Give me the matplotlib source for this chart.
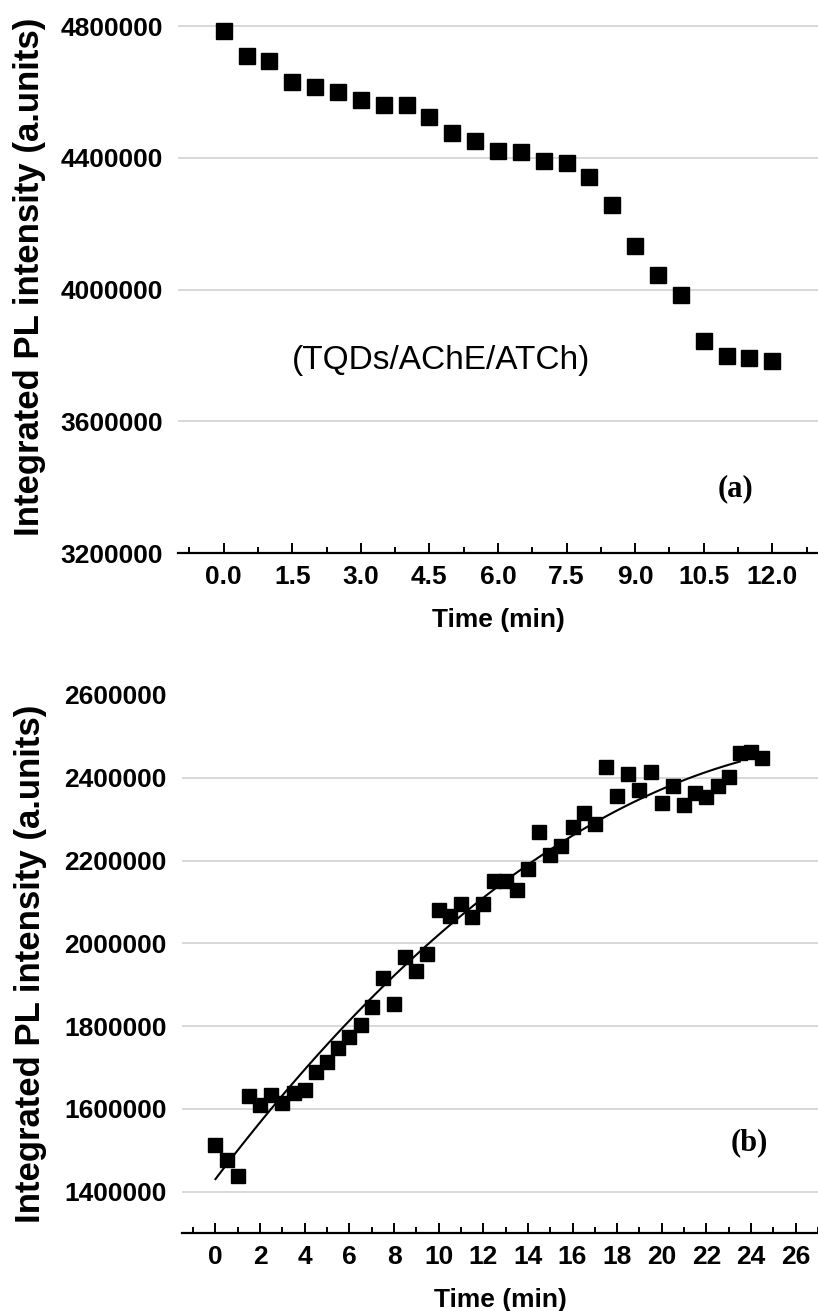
import numpy as np
import matplotlib
matplotlib.use('Agg')
import matplotlib.pyplot as plt
from matplotlib.ticker import MultipleLocator

# panel (a): PL decay
time_a = [0.0, 0.5, 1.0, 1.5, 2.0, 2.5, 3.0, 3.5, 4.0, 4.5, 5.0, 5.5, 6.0,
          6.5, 7.0, 7.5, 8.0, 8.5, 9.0, 9.5, 10.0, 10.5, 11.0, 11.5, 12.0]
pl_a = [4785000, 4709000, 4695000, 4629000, 4616000, 4600000, 4576000,
        4561000, 4561000, 4523000, 4475000, 4452000, 4422000, 4417000,
        4389000, 4384000, 4343000, 4258000, 4131000, 4045000, 3982000,
        3843000, 3798000, 3793000, 3783000]
yticks_a = [3200000, 3600000, 4000000, 4400000, 4800000]
xticks_a = [0.0, 1.5, 3.0, 4.5, 6.0, 7.5, 9.0, 10.5, 12.0]

# panel (b): PL recovery
time_b = [0.0, 0.5, 1.0, 1.5, 2.0, 2.5, 3.0, 3.5, 4.0, 4.5, 5.0, 5.5, 6.0,
          6.5, 7.0, 7.5, 8.0, 8.5, 9.0, 9.5, 10.0, 10.5, 11.0, 11.5, 12.0,
          12.5, 13.0, 13.5, 14.0, 14.5, 15.0, 15.5, 16.0, 16.5, 17.0, 17.5,
          18.0, 18.5, 19.0, 19.5, 20.0, 20.5, 21.0, 21.5, 22.0, 22.5, 23.0,
          23.5, 24.0, 24.5]
pl_b = [1513000, 1477000, 1437000, 1631000, 1610000, 1634000, 1614000,
        1638000, 1646000, 1690000, 1714000, 1746000, 1774000, 1802000,
        1846000, 1915000, 1853000, 1967000, 1933000, 1973000, 2081000,
        2067000, 2094000, 2063000, 2096000, 2150000, 2150000, 2128000,
        2180000, 2268000, 2214000, 2234000, 2281000, 2316000, 2289000,
        2426000, 2355000, 2410000, 2370000, 2414000, 2339000, 2381000,
        2334000, 2364000, 2354000, 2381000, 2402000, 2459000, 2462000,
        2448000]
yticks_b = [1400000, 1600000, 1800000, 2000000, 2200000, 2400000, 2600000]
xticks_b = list(range(0, 27, 2))

W, H = 818, 1311
fig = plt.figure(figsize=(W / 100, H / 100), dpi=100)

grid_col = '#d8d8d8'


def style(ax):
    for s in ['top', 'right', 'left']:
        ax.spines[s].set_visible(False)
    ax.spines['bottom'].set_linewidth(1.6)
    ax.tick_params(axis='y', length=0, pad=11)
    ax.tick_params(axis='x', which='major', direction='in', length=7.5,
                   width=1.4, pad=9)
    ax.tick_params(axis='x', which='minor', direction='in', length=4,
                   width=1.4)
    ax.yaxis.grid(True, color=grid_col, linewidth=1.4)
    ax.set_axisbelow(True)
    for lab in ax.get_xticklabels() + ax.get_yticklabels():
        lab.set_fontfamily('Liberation Sans')
        lab.set_fontweight('bold')
        lab.set_fontsize(19)
    ax.set_xlabel('Time (min)', fontfamily='Liberation Sans',
                  fontweight='bold', fontsize=19, labelpad=13)
    ax.set_ylabel('Integrated PL intensity (a.units)',
                  fontfamily='Liberation Sans', fontweight='bold',
                  fontsize=25)


# top panel
ax1 = fig.add_axes([178 / W, (H - 553) / H, (W - 178) / W, 553 / H])
ax1.plot(time_a, pl_a, 's', color='black', ms=12)
ax1.set_xlim(-1, 13)
ax1.set_ylim(3200000, 4879000)
ax1.set_yticks(yticks_a)
ax1.set_yticklabels([str(v) for v in yticks_a])
ax1.set_xticks(xticks_a)
ax1.set_xticklabels(['%.1f' % v for v in xticks_a])
ax1.xaxis.set_minor_locator(MultipleLocator(0.75))
style(ax1)
ax1.yaxis.set_label_coords(-0.206, 0.5)
ax1.text(4.75, 3783000, '(TQDs/AChE/ATCh)', ha='center', va='center',
         fontfamily='Liberation Sans', fontsize=24)
ax1.text(11.2, 3394000, '(a)', ha='center', va='center',
         fontfamily='Liberation Serif', fontweight='bold', fontsize=22)

# bottom panel
ax2 = fig.add_axes([182 / W, (H - 1233) / H, (W - 182) / W, (1233 - 695) / H])
ax2.plot(time_b, pl_b, 's', color='black', ms=9.5)
coef = np.polyfit(time_b, pl_b, 2)
tfit = np.linspace(0, 23.5, 100)
ax2.plot(tfit, np.polyval(coef, tfit), color='black', lw=1.5)
ax2.set_xlim(-1.5, 27)
ax2.set_ylim(1300000, 2600000)
ax2.set_yticks(yticks_b)
ax2.set_yticklabels([str(v) for v in yticks_b])
ax2.set_xticks(xticks_b)
ax2.set_xticklabels([str(v) for v in xticks_b])
ax2.xaxis.set_minor_locator(MultipleLocator(1))
style(ax2)
ax2.get_ygridlines()[-1].set_visible(False)
ax2.yaxis.set_label_coords(-0.213, 0.5)
ax2.text(23.9, 1518000, '(b)', ha='center', va='center',
         fontfamily='Liberation Serif', fontweight='bold', fontsize=22)

fig.savefig('out.png', dpi=100)
plt.close('all')
